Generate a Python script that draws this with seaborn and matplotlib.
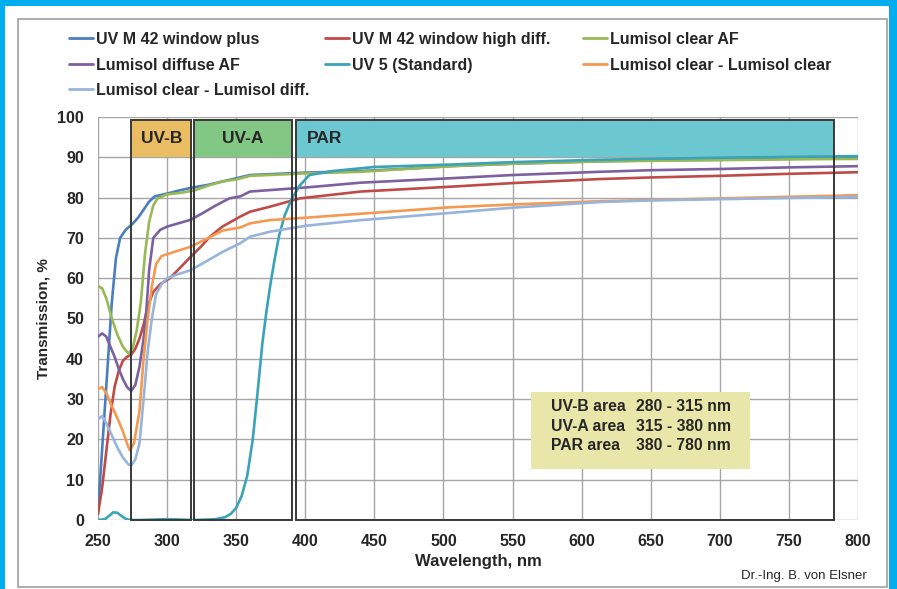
#!/usr/bin/env python3

# Transmission spectra of greenhouse films, redrawn with seaborn

import pandas as pd
import seaborn as sns
import matplotlib.pyplot as plt
from matplotlib.patches import Rectangle
from matplotlib.lines import Line2D

# -- values (wavelength nm, transmission %)
names = ["UV M 42 window plus", "UV M 42 window high diff.", "Lumisol clear AF",
         "Lumisol diffuse AF", "UV 5 (Standard)", "Lumisol clear - Lumisol clear",
         "Lumisol clear - Lumisol diff."]
colors = ["#4A7EBF", "#BE4B48", "#98B954", "#7D60A0", "#3AA3B8", "#F39A50", "#97B4DB"]

blue_x = [250, 255, 260, 263, 266, 270, 275, 279, 283, 287, 291, 300, 308, 317, 330, 340, 350, 360,
          380, 400, 440, 475, 505, 550, 613, 650, 700, 750, 800]
blue_y = [2, 28, 54, 65, 70, 72, 73.5, 75, 77, 79, 80.3, 81, 81.7, 82.4, 83.2, 84, 84.8, 85.6,
          85.9, 86.2, 86.6, 87.2, 87.8, 88.4, 89.0, 89.2, 89.4, 89.6, 89.8]

red_x = [250, 253, 256, 259, 262, 265, 268, 271, 274, 277, 280, 283, 286, 290, 295, 302, 310, 317,
         325, 331, 340, 353, 360, 374, 396, 440, 505, 550, 613, 650, 700, 750, 800]
red_y = [1.5, 8, 17, 26, 33, 37, 39.5, 40.5, 41, 42.5, 45, 48.5, 53, 56.6, 58.5, 60, 62.8, 65.3,
         68, 70.3, 72.8, 75.3, 76.5, 77.7, 79.8, 81.5, 82.7, 83.6, 84.6, 85.0, 85.4, 85.9, 86.3]

green_x = [250, 253, 256, 260, 264, 268, 272, 275, 278, 281, 284, 287, 290, 293, 300, 310, 320,
           330, 340, 350, 360, 380, 400, 440, 505, 550, 613, 700, 750, 800]
green_y = [58, 57.5, 55, 50, 46, 43, 41.3, 42.5, 47, 54, 66, 74, 78, 79.8, 80.8, 81.2, 81.8,
           83, 84, 84.5, 85.4, 85.7, 86, 86.4, 87.8, 88.4, 89.0, 89.3, 89.5, 89.6]

purple_x = [250, 253, 256, 259, 262, 265, 268, 271, 274, 277, 280, 283, 285, 287, 290, 295, 300,
            310, 317, 325, 335, 345, 353, 360, 380, 400, 440, 505, 550, 613, 650, 700, 750, 800]
purple_y = [45.5, 46.3, 45.5, 43, 40.5, 37.5, 35, 33, 32, 33.5, 38, 45, 52, 62, 70, 72, 72.8,
            73.8, 74.5, 76, 78, 79.8, 80.3, 81.5, 82, 82.5, 83.7, 84.8, 85.6, 86.4, 86.8, 87.1,
            87.5, 87.8]

teal_x = [250, 255, 258, 261, 264, 267, 270, 273, 280, 300, 320, 335, 342, 346, 350, 354, 358, 362,
          365, 369, 372, 375, 378, 381, 385, 390, 396, 403, 420, 450, 505, 550, 613, 700, 800]
teal_y = [0, 0.2, 1.0, 1.9, 1.8, 1.0, 0.3, 0, 0, 0.2, 0, 0.2, 0.7, 1.5, 3, 6, 11, 20,
          30, 44, 52, 59, 65, 70.5, 75.5, 79.5, 83, 85.6, 86.6, 87.6, 88.2, 88.8, 89.4, 89.9, 90.3]

orange_x = [250, 253, 256, 259, 262, 265, 268, 271, 273, 276, 280, 283, 286, 289, 292, 296, 305,
            317, 330, 340, 353, 360, 374, 400, 440, 505, 550, 613, 650, 700, 750, 800]
orange_y = [32.5, 33, 31.5, 29, 26.8, 24.5, 22, 19, 17.3, 19, 27, 40, 50, 58, 63.5, 65.5, 66.5,
            67.8, 70, 71.8, 72.6, 73.6, 74.4, 75, 76, 77.6, 78.3, 79.1, 79.4, 79.8, 80.2, 80.6]

lb_x = [250, 253, 256, 260, 264, 268, 272, 274, 277, 280, 283, 286, 289, 292, 296, 300, 308, 317,
        330, 340, 353, 360, 374, 400, 440, 505, 550, 613, 650, 700, 750, 800]
lb_y = [25, 25.8, 24, 21, 18, 15.5, 13.8, 13.5, 15, 19, 30, 42, 50, 56, 58.5, 60, 61, 62,
        64.5, 66.5, 68.7, 70.3, 71.5, 73, 74.4, 76.2, 77.5, 78.9, 79.3, 79.6, 79.9, 80.2]

xs_all = [blue_x, red_x, green_x, purple_x, teal_x, orange_x, lb_x]
ys_all = [blue_y, red_y, green_y, purple_y, teal_y, orange_y, lb_y]

# spectral bands (box x range) and header colours
bands = [("UV-B", 274, 317.5, "#EABD63"), ("UV-A", 319.5, 390.5, "#82C884"),
         ("PAR", 393, 782.6, "#6CC8D0")]

rows = []
for name, xs, ys in zip(names, xs_all, ys_all):
    for x, y in zip(xs, ys):
        rows.append((name, x, y))
dta = pd.DataFrame(rows, columns=["filter", "wavelength", "transmission"])

sns.set_style("white")
plt.rcParams["font.family"] = ["Liberation Sans", "DejaVu Sans"]

W, H = 897, 589
fig = plt.figure(figsize=(W / 100, H / 100), dpi=100, facecolor="#00AEEF")
# white sheet and grey frame
fig.patches.append(Rectangle((5 / W, 0), 884 / W, 583 / H, transform=fig.transFigure,
                             facecolor="white", edgecolor="none", zorder=-10))
fig.patches.append(Rectangle((18 / W, 2 / H), 869 / W, 568 / H, transform=fig.transFigure,
                             facecolor="none", edgecolor="#A0A0A0", lw=1.2, zorder=-9))

ax = fig.add_axes([98 / W, (H - 520) / H, 760 / W, 403 / H])
ax.set_facecolor("none")

sns.lineplot(data=dta, x="wavelength", y="transmission", hue="filter", hue_order=names,
             palette=dict(zip(names, colors)), estimator=None, lw=1.9, legend=False,
             ax=ax, zorder=3)

ax.set_xlim(250, 800)
ax.set_ylim(0, 100)
ax.set_xticks(range(250, 801, 50))
ax.set_yticks(range(0, 101, 10))
ax.grid(True, color="#A6A6A6", lw=1, zorder=0)
for s in ax.spines.values():
    s.set_visible(False)
ax.tick_params(axis="both", length=5, color="#A6A6A6", labelsize=11.5)
ax.tick_params(axis="y", pad=5)
ax.tick_params(axis="x", pad=5)
for lab in ax.get_xticklabels() + ax.get_yticklabels():
    lab.set_fontweight("bold")

ax.set_xlabel("Wavelength, nm", fontsize=12, fontweight="bold")
ax.set_ylabel("Transmission, %", fontsize=11, fontweight="bold")
ax.xaxis.set_label_coords(0.5, -0.085)
ax.yaxis.set_label_coords(-0.062, 0.5)

# band boxes with coloured headers
for label, x0, x1, col in bands:
    ax.add_patch(Rectangle((x0, 0), x1 - x0, 99.3, facecolor="none", edgecolor="#383838",
                           lw=1.4, zorder=5, clip_on=False))
    ax.add_patch(Rectangle((x0 + 0.8, 90.1), x1 - x0 - 1.6, 9.0, facecolor=col,
                           edgecolor="none", zorder=2))
    if label == "PAR":
        ax.text(401, 94.6, label, ha="left", va="center", fontsize=12.5, fontweight="bold", zorder=6)
    else:
        ax.text((x0 + x1) / 2, 94.6, label, ha="center", va="center", fontsize=12.5,
                fontweight="bold", zorder=6)

# info box
ax.add_patch(Rectangle((563.3, 12.7), 158.5, 19.1, facecolor="#E9E6A9", edgecolor="none", zorder=4))
info = [("UV-B area", "280 - 315 nm"), ("UV-A area", "315 - 380 nm"), ("PAR area", "380 - 780 nm")]
for i, (a, b) in enumerate(info):
    yy = 28.1 - i * 4.85
    ax.text(577.5, yy, a, ha="left", va="center", fontsize=11.3, fontweight="bold", zorder=6)
    ax.text(639, yy, b, ha="left", va="center", fontsize=11.3, fontweight="bold", zorder=6)

# legend in three separate columns
cols_idx = [[0, 3, 6], [1, 4], [2, 5]]
col_x = [69, 325, 583]
for idx, cx in zip(cols_idx, col_x):
    hs = [Line2D([], [], color=colors[i], lw=2) for i in idx]
    fig.legend(hs, [names[i] for i in idx], loc="upper left",
               bbox_to_anchor=(cx / W, 1 - 32 / H), frameon=False, borderpad=0,
               borderaxespad=0, handlelength=1.5, handletextpad=0.2, labelspacing=0.66,
               prop={"size": 11.5, "weight": "bold"})

fig.text(867 / W, 1 - 576 / H, "Dr.-Ing. B. von Elsner", ha="right", va="center", fontsize=9.5)

fig.savefig("out.png", dpi=100, facecolor=fig.get_facecolor())
